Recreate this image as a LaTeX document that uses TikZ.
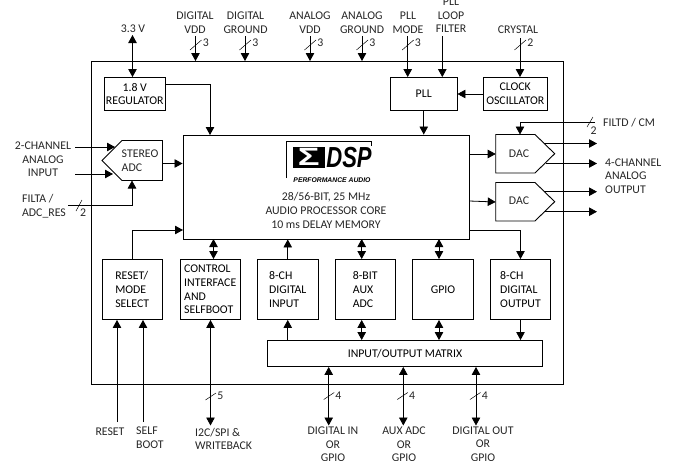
\documentclass[tikz,border=0pt]{standalone}
\usepackage{fontspec}
\setmainfont{Carlito}
\newfontfamily\logofont{Liberation Sans}
\usetikzlibrary{arrows.meta}
\begin{document}
\begin{tikzpicture}[x=1pt,y=-1pt,line join=miter,>={Triangle[length=8pt,width=8.5pt]},font=\fontsize{11.8}{13.6}\selectfont]
	\tikzset{box/.style={draw,line width=0.9pt,inner sep=0pt,align=left},
		lab/.style={inner sep=0pt,align=center,text=black!85},
		sig/.style={line width=0.8pt,->},
		sigb/.style={line width=0.8pt,<->},
		busmark/.style={line width=0.5pt},
		busnum/.style={lab,right=1pt,yshift=-3pt},
		shape line/.style={line width=0.9pt}}
	\useasboundingbox (0,0) rectangle (673,461);
	% outer chip and blocks
	\node[box,minimum width=472,minimum height=322.5] (chip) at (327,222.75) {};
	\node[box,minimum width=60.5,minimum height=33,align=center] (reg) at (134.75,94) {1.8 V\\REGULATOR};
	\node[box,minimum width=66.5,minimum height=33] (pll) at (423.75,94) {PLL};
	\node[box,minimum width=63.5,minimum height=33,align=center] (clk) at (515.25,94) {CLOCK\\OSCILLATOR};
	\node[box,minimum width=286,minimum height=104] (core) at (326,187) {};
	\node[box,minimum width=60.5,minimum height=60] (reset) at (132.25,289.5) {RESET/\\MODE\\SELECT};
	\node[box,minimum width=60.5,minimum height=60] (ctrl) at (210.25,289.5) {CONTROL\\INTERFACE\\AND\\SELFBOOT};
	\node[box,minimum width=60.5,minimum height=60] (din) at (287.75,289.5) {8-CH\\DIGITAL\\INPUT};
	\node[box,minimum width=60.5,minimum height=60] (aux) at (365.25,289.5) {8-BIT\\AUX\\ADC};
	\node[box,minimum width=60.5,minimum height=60] (gpio) at (443,289.5) {GPIO};
	\node[box,minimum width=60.5,minimum height=60] (dout) at (520.5,289.5) {8-CH\\DIGITAL\\OUTPUT};
	\node[box,minimum width=274.5,minimum height=26] (matrix) at (405,353.5) {INPUT/OUTPUT MATRIX};
	% converters
	\draw[shape line] (102,160.5)--(122,140.5)--(162.5,140.5)--(162.5,180.5)--(122,180.5)--cycle;
	\draw[shape line] (495.7,134.5)--(535,134.5)--(554.7,153.7)--(535,173)--(495.7,173)--cycle;
	\draw[shape line] (495.7,182.5)--(535,182.5)--(554.7,201.7)--(535,221)--(495.7,221)--cycle;
	\node[lab,align=left] (adc) at (140,160.5) {STEREO\\ADC};
	\node[lab] (dac1) at (519,154) {DAC};
	\node[lab] (dac2) at (519,201) {DAC};
	% logo
	\draw[line width=0.7pt] (286.7,178)--(286.7,141.7)--(371.7,141.7)--(371.7,146);
	\fill[black] (292.7,146.5) rectangle (325,167.5);
	\node[inner sep=0pt,text=white,xscale=1.45,transform shape,font=\logofont\bfseries\fontsize{25}{25}\selectfont] (sigma) at (308.8,157) {Σ};
	\node[inner sep=0pt,xscale=0.76,transform shape,font=\logofont\bfseries\itshape\fontsize{29}{29}\selectfont] (dsp) at (349,157.3) {DSP};
	\node[inner sep=0pt,font=\logofont\bfseries\itshape\fontsize{6.8}{6.8}\selectfont] (perf) at (332,180) {PERFORMANCE AUDIO};
	\node[lab] (coretext) at (326,210.5) {28/56-BIT, 25 MHz\\AUDIO PROCESSOR CORE\\10 ms DELAY MEMORY};
	% top pins
	\coordinate (vin) at (132.5,35);
	\coordinate (dvdd) at (195.5,36);
	\coordinate (dgnd) at (245,36);
	\coordinate (avdd) at (310,36);
	\coordinate (agnd) at (362,36);
	\coordinate (pmode) at (407.7,36);
	\coordinate (ploop) at (442.3,36);
	\coordinate (xtal) at (520,38);
	\draw[sigb] (vin)--(vin |- reg.north);
	\draw[sig] (dvdd)--(dvdd |- chip.north);
	\draw[sig] (dgnd)--(dgnd |- chip.north);
	\draw[sig] (avdd)--(avdd |- chip.north);
	\draw[sig] (agnd)--(agnd |- chip.north);
	\draw[sig] (pmode)--(pmode |- pll.north);
	\draw[sig] (ploop)--(ploop |- pll.north);
	\draw[sig] (xtal)--(xtal |- clk.north);
	\draw[busmark] (dvdd) ++(-5.5,14)--++(11.5,-10) node[busnum] (n1) {3};
	\draw[busmark] (dgnd) ++(-5.5,14)--++(11.5,-10) node[busnum] (n2) {3};
	\draw[busmark] (avdd) ++(-5.5,14)--++(11.5,-10) node[busnum] (n3) {3};
	\draw[busmark] (agnd) ++(-5.5,14)--++(11.5,-10) node[busnum] (n4) {3};
	\draw[busmark] (pmode) ++(-5.5,14)--++(11.5,-10) node[busnum] (n5) {3};
	\draw[busmark] (xtal) ++(-5.5,12)--++(11.5,-10) node[busnum] (n6) {2};
	\node[lab] (l33) at (133,29) {3.3 V};
	\node[lab] (ldvdd) at (195,22.5) {DIGITAL\\VDD};
	\node[lab] (ldgnd) at (245.5,22.5) {DIGITAL\\GROUND};
	\node[lab] (lavdd) at (310,22.5) {ANALOG\\VDD};
	\node[lab] (lagnd) at (362,22.5) {ANALOG\\GROUND};
	\node[lab] (lmode) at (408,22.5) {PLL\\MODE};
	\node[lab] (lloop) at (451,15.5) {PLL\\LOOP\\FILTER};
	\node[lab] (lxtal) at (518,30) {CRYSTAL};
	% inner connectors
	\coordinate (regout) at (165,84);
	\coordinate (corereg) at (210,135);
	\coordinate (rstin) at (183,230);
	\coordinate (corefb) at (469,230);
	\draw[sig] (regout) -| (corereg);
	\draw[sig] (clk.west)--(pll.east);
	\draw[sig] (pll.south)--(pll.south |- core.north);
	\draw[sig] (reset.north) |- (rstin);
	\draw[sig] (corefb) -| (dout.north);
	\draw[sig] (162.5,163.5) coordinate (adcout)--(adcout -| core.west);
	\draw[sig] (core.east |- dac1)--(495.7,154);
	\draw[sig] (core.east |- dac2)--(495.7,202);
	% core to blocks and blocks to matrix
	\coordinate (cx) at (213.5,239);
	\coordinate (ax) at (361.7,239);
	\coordinate (gx) at (439,239);
	\draw[sigb] (cx)--(cx |- ctrl.north);
	\draw[sig] (din.north)--(din.north |- core.south);
	\draw[sigb] (ax)--(ax |- aux.north);
	\draw[sigb] (gx)--(gx |- gpio.north);
	\draw[sig] (din.south |- matrix.north)--(din.south);
	\draw[sigb] (ax |- aux.south)--(ax |- matrix.north);
	\draw[sigb] (gx |- gpio.south)--(gx |- matrix.north);
	\draw[sig] (dout.south)--(dout.south |- matrix.north);
	% analog side
	\coordinate (ain1) at (75,147);
	\coordinate (ain2) at (75,174);
	\coordinate (afil) at (68,205);
	\draw[sig] (ain1)--(115,147);
	\draw[sig] (ain2)--(113,174);
	\draw[sig] (afil)-|(132,180.5);
	\draw[busmark] (76,211)--(82,200) node[lab] (n7) at (83,213) {2};
	\node[lab] (lain) at (43,159.5) {2-CHANNEL\\ANALOG\\INPUT};
	\node[lab,align=left] (lfil) at (44,206) {FILTA /\\ADC\_RES};
	% dac side
	\coordinate (fild) at (595,122.5);
	\draw[line width=0.8pt,->] (fild)-|(520,134.5);
	\draw[busmark] (587,127)--(593,117) node[lab] (n8) at (593.5,131) {2};
	\node[lab,anchor=west] (lfild) at (603,123) {FILTD / CM};
	\coordinate (o1) at (597,143.5);
	\coordinate (o2) at (597,163.5);
	\coordinate (o3) at (597,191.7);
	\coordinate (o4) at (597,211.7);
	\draw[sig] (544,143.5)--(o1);
	\draw[sig] (546,163.5)--(o2);
	\draw[sig] (544,191.7)--(o3);
	\draw[sig] (545,211.7)--(o4);
	\node[lab,align=left,anchor=west] (lout) at (605,176) {4-CHANNEL\\ANALOG\\OUTPUT};
	% bottom pins
	\coordinate (prst) at (117,422);
	\coordinate (pboot) at (143,422);
	\coordinate (pi2c) at (210.5,425.5);
	\coordinate (pdin) at (328.7,425.5);
	\coordinate (paux) at (403.3,425.5);
	\coordinate (pout) at (476,425.5);
	\draw[sig] (prst)--(prst |- reset.south);
	\draw[sig] (pboot)--(pboot |- reset.south);
	\draw[sigb] (pi2c)--(pi2c |- ctrl.south);
	\draw[sigb] (pdin)--(pdin |- matrix.south);
	\draw[sigb] (paux)--(paux |- matrix.south);
	\draw[sigb] (pout)--(pout |- matrix.south);
	\draw[busmark] (pi2c) ++(-5,-25.5)--++(10.5,-7) node[busnum] (n9) {5};
	\draw[busmark] (pdin) ++(-5,-26)--++(10.5,-7) node[busnum] (n10) {4};
	\draw[busmark] (paux) ++(-6,-26)--++(10.5,-7) node[busnum] (n11) {4};
	\draw[busmark] (pout) ++(-6,-26)--++(10.5,-7) node[busnum] (n12) {4};
	\node[lab] (lrst) at (110,432) {RESET};
	\node[lab,align=left,anchor=west] (lboot) at (136,438) {SELF\\BOOT};
	\node[lab,align=left,anchor=west] (li2c) at (195,439) {I2C/SPI \&\\WRITEBACK};
	\node[lab] (ldin) at (333,444.5) {DIGITAL IN\\OR\\GPIO};
	\node[lab] (laux) at (404,444.5) {AUX ADC\\OR\\GPIO};
	\node[lab] (ldout) at (483,444) {DIGITAL OUT\\OR\\GPIO};
\end{tikzpicture}
\end{document}
